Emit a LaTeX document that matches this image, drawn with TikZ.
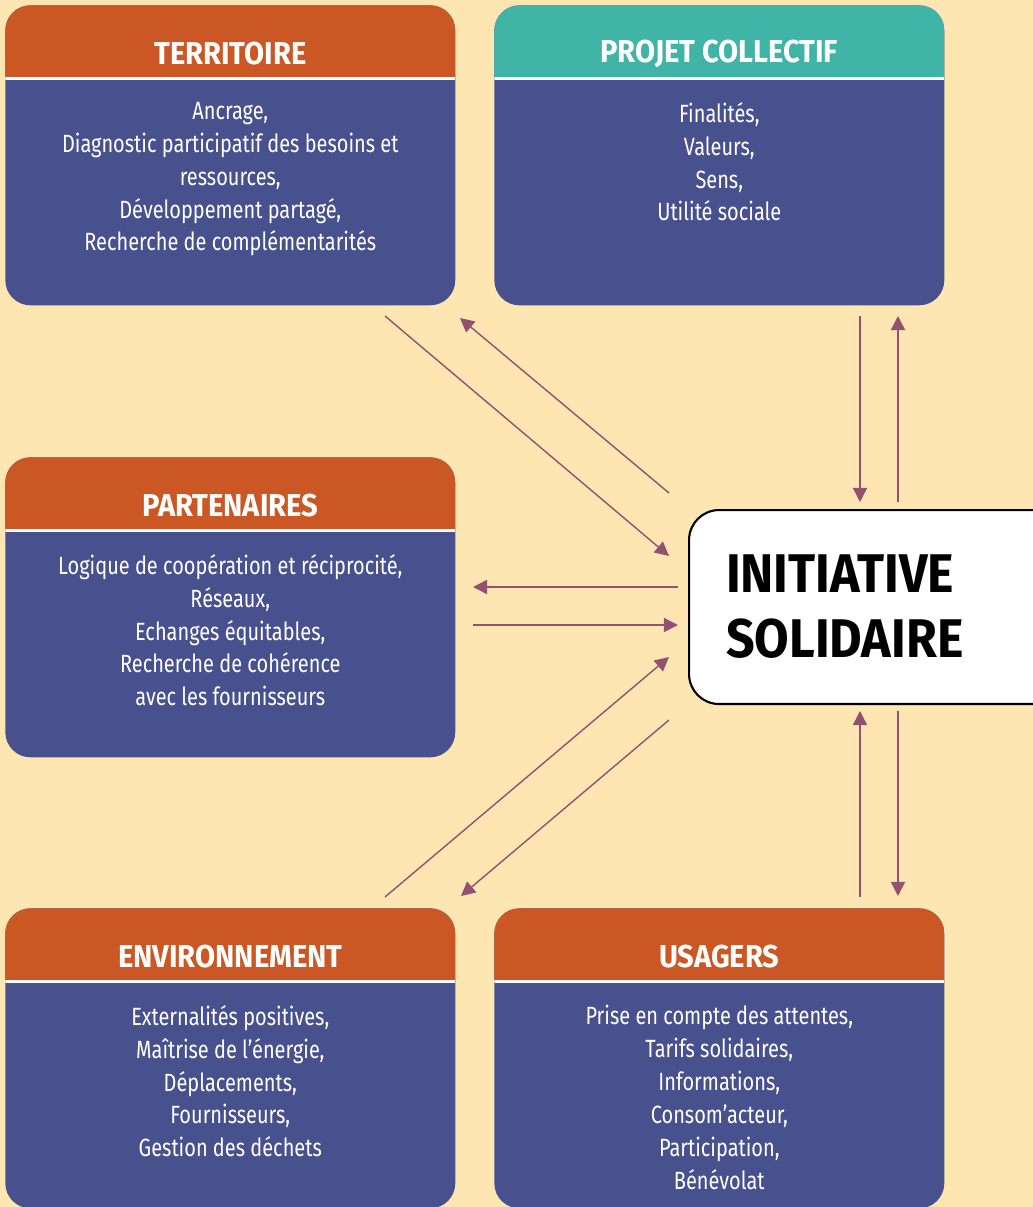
\documentclass[tikz,border=0pt]{standalone}
\usepackage{fontspec}
\setmainfont{Fira Sans}[FakeStretch=0.8,BoldFeatures={FakeStretch=0.92}]
\usetikzlibrary{arrows.meta}
\definecolor{bgyellow}{HTML}{FDE6B1}
\definecolor{boxorange}{HTML}{CB5724}
\definecolor{boxteal}{HTML}{40B4A6}
\definecolor{boxblue}{HTML}{48508E}
\definecolor{arrowpurple}{HTML}{93506F}

\begin{document}
\begin{tikzpicture}[x=0.02cm,y=-0.02cm,
  box/.style={fill=boxblue,rounded corners=0.5cm,minimum width=9cm,minimum height=6cm,
    anchor=north west,inner sep=0pt,
    path picture={\fill[#1,sharp corners] (path picture bounding box.north west) rectangle ([yshift=-1.44cm]path picture bounding box.north east);
      \fill[white,sharp corners] ([yshift=-1.44cm]path picture bounding box.north west) rectangle ([yshift=-1.5cm]path picture bounding box.north east);}},
  box/.default=boxorange,
  title/.style={text=white,font=\fontsize{18}{20}\selectfont\bfseries},
  body/.style={text=white,anchor=north,align=center,inner sep=0pt,font=\fontsize{14.2}{18.7}\selectfont},
  init/.style={fill=white,draw=black,line width=1.2pt,rounded corners=0.6cm,anchor=north west,
    text width=6.5cm,inner xsep=0.74cm,minimum height=3.88cm,align=left,
    font=\fontsize{31}{37}\selectfont\bfseries},
  arr/.style={draw=arrowpurple,line width=0.8pt,-{Triangle[length=8pt,width=8pt]}}]

% background
\fill[bgyellow] (0,0) rectangle (1033,1207);
\useasboundingbox (0,0) rectangle (1033,1207);

% boxes
\node[box] (terr) at (5,5) {};
\node[title] (terr-t) at ([yshift=-0.97cm]terr.north) {TERRITOIRE};
\node[body] (terr-b) at ([yshift=-1.94cm]terr.north) {Ancrage,\\Diagnostic participatif des besoins et\\ressources,\\Développement partagé,\\Recherche de complémentarités};

\node[box=boxteal] (proj) at (494,5) {};
\node[title] (proj-t) at ([yshift=-0.97cm]proj.north) {PROJET COLLECTIF};
\node[body] (proj-b) at ([yshift=-1.94cm]proj.north) {Finalités,\\Valeurs,\\Sens,\\Utilité sociale};

\node[box] (part) at (5,457) {};
\node[title] (part-t) at ([yshift=-0.97cm]part.north) {PARTENAIRES};
\node[body] (part-b) at ([yshift=-1.94cm]part.north) {Logique de coopération et réciprocité,\\Réseaux,\\Echanges équitables,\\Recherche de cohérence\\avec les fournisseurs};

\node[box] (env) at (5,908) {};
\node[title] (env-t) at ([yshift=-0.97cm]env.north) {ENVIRONNEMENT};
\node[body] (env-b) at ([yshift=-1.94cm]env.north) {Externalités positives,\\Maîtrise de l’énergie,\\Déplacements,\\Fournisseurs,\\Gestion des déchets};

\node[box] (usag) at (494,908) {};
\node[title] (usag-t) at ([yshift=-0.97cm]usag.north) {USAGERS};
\node[body] (usag-b) at ([yshift=-1.94cm]usag.north) {Prise en compte des attentes,\\Tarifs solidaires,\\Informations,\\Consom’acteur,\\Participation,\\Bénévolat};

% center
\node[init] (init) at (688,509) {INITIATIVE\\SOLIDAIRE};

% arrow ends
\coordinate (t1) at (385,316); \coordinate (t2) at (669,556);
\coordinate (t3) at (669,493); \coordinate (t4) at (460,318);
\coordinate (p1) at (860,316); \coordinate (p2) at (860,502);
\coordinate (p3) at (898,502); \coordinate (p4) at (898,316);
\coordinate (r1) at (678,587); \coordinate (r2) at (473,587);
\coordinate (r3) at (473,625); \coordinate (r4) at (678,625);
\coordinate (e1) at (385,897); \coordinate (e2) at (669,657);
\coordinate (e3) at (669,720); \coordinate (e4) at (461,896);
\coordinate (u1) at (860,897); \coordinate (u2) at (860,711);
\coordinate (u3) at (898,711); \coordinate (u4) at (898,896);

% arrows
\draw[arr] (t1) -- (t2);
\draw[arr] (t3) -- (t4);
\draw[arr] (p1) -- (p2);
\draw[arr] (p3) -- (p4);
\draw[arr] (r1) -- (r2);
\draw[arr] (r3) -- (r4);
\draw[arr] (e1) -- (e2);
\draw[arr] (e3) -- (e4);
\draw[arr] (u1) -- (u2);
\draw[arr] (u3) -- (u4);

\end{tikzpicture}
\end{document}
